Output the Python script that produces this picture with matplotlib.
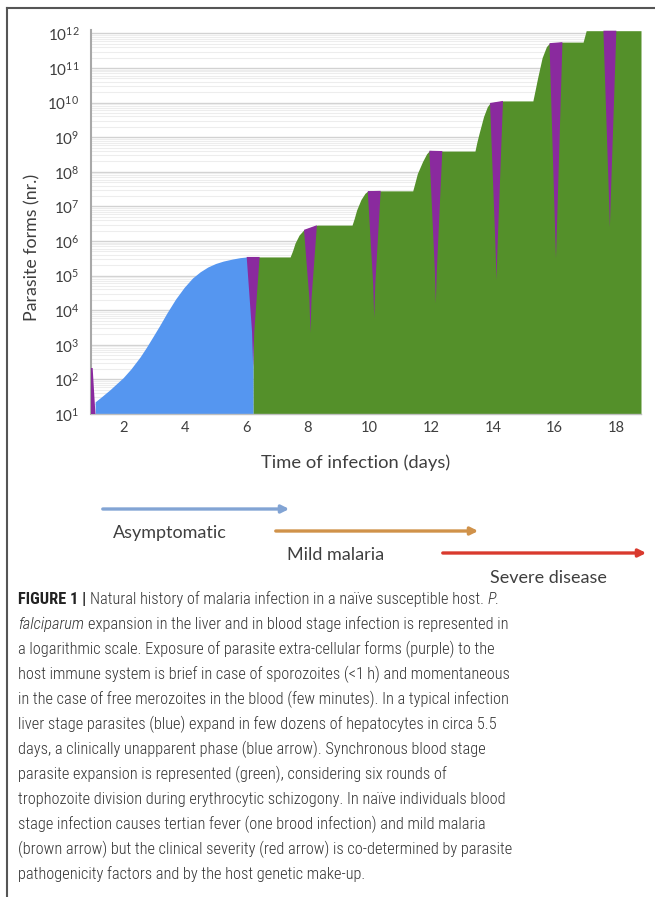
import numpy as np
import matplotlib
matplotlib.use("Agg")
import matplotlib.pyplot as plt
from matplotlib import font_manager
from matplotlib.lines import Line2D
from matplotlib.patches import FancyArrowPatch
from matplotlib.ticker import FixedLocator, NullFormatter

# ---------------- data (log10 of parasite numbers) ----------------
# liver stage (blue)
liver_days = [1.09, 1.30, 1.57, 2.00, 2.25, 2.55, 2.75, 2.97, 3.20, 3.42, 3.70, 3.98,
              4.25, 4.50, 4.75, 5.00, 5.25, 5.55, 5.80, 6.02, 6.22]
liver_log = [1.35, 1.50, 1.70, 2.05, 2.30, 2.65, 2.92, 3.24, 3.58, 3.92, 4.32, 4.66,
             4.93, 5.11, 5.25, 5.35, 5.42, 5.48, 5.52, 5.54, 5.54]

# blood stage (green) outline
blood_days = [6.22, 7.42, 7.50, 7.58, 7.71, 7.86, 8.30,
              9.43, 9.50, 9.58, 9.72, 9.85, 9.95, 10.41,
              11.40, 11.47, 11.55, 11.72, 11.85, 11.95, 12.39,
              13.42, 13.48, 13.55, 13.70, 13.82, 13.91, 14.33,
              15.30, 15.37, 15.45, 15.60, 15.74, 15.84, 16.28,
              16.93, 17.03, 18.81]
blood_log = [5.54, 5.54, 5.72, 5.94, 6.17, 6.32, 6.46,
             6.46, 6.65, 6.90, 7.20, 7.38, 7.45, 7.45,
             7.45, 7.68, 7.95, 8.30, 8.52, 8.62, 8.60,
             8.60, 8.85, 9.10, 9.60, 9.88, 9.99, 10.05,
             10.05, 10.35, 10.70, 11.30, 11.62, 11.72, 11.75,
             11.75, 12.08, 12.08]

# extracellular forms (purple): merozoite release days and depth of spike
merozoite_days = [6.22, 8.08, 10.15, 12.15, 14.12, 16.05, 17.80]
merozoite_min_log = [2.36, 3.34, 3.77, 4.20, 4.87, 5.50, 6.40]
sporozoite_day = 0.98
sporozoite_log = 2.33

x_ticks = [2, 4, 6, 8, 10, 12, 14, 16, 18]
y_exponents = list(range(1, 13))

phase_labels = ["Asymptomatic", "Mild malaria", "Severe disease"]

caption_lines = [
    [("FIGURE 1 |", "bold"), ("Natural history of malaria infection in a naïve susceptible host.", "normal"), ("P.", "italic")],
    [("falciparum", "italic"), ("expansion in the liver and in blood stage infection is represented in", "normal")],
    [("a logarithmic scale. Exposure of parasite extra-cellular forms (purple) to the", "normal")],
    [("host immune system is brief in case of sporozoites (<1\u2009h) and momentaneous", "normal")],
    [("in the case of free merozoites in the blood (few minutes). In a typical infection", "normal")],
    [("liver stage parasites (blue) expand in few dozens of hepatocytes in circa 5.5", "normal")],
    [("days, a clinically unapparent phase (blue arrow). Synchronous blood stage", "normal")],
    [("parasite expansion is represented (green), considering six rounds of", "normal")],
    [("trophozoite division during erythrocytic schizogony. In naïve individuals blood", "normal")],
    [("stage infection causes tertian fever (one brood infection) and mild malaria", "normal")],
    [("(brown arrow) but the clinical severity (red arrow) is co-determined by parasite", "normal")],
    [("pathogenicity factors and by the host genetic make-up.", "normal")],
]

# ---------------- style ----------------
W, H = 655, 897
BLUE = "#5596F0"
GREEN = "#54902A"
PURPLE = "#8A2A9E"
TXT = "#3F3F3F"

fl = font_manager.fontManager.ttflist
installed = {f.name for f in fl}
CHART_FONT = "Lato" if "Lato" in installed else "DejaVu Sans"

CAP_FONT, CAP_STRETCH = "Liberation Sans", "normal"
for cand in ["Liberation Sans Narrow", "Roboto Condensed", "Open Sans Condensed",
             "Noto Sans Condensed", "Arial Narrow"]:
    if cand in installed:
        CAP_FONT = cand
        break
else:
    for fam in ["Roboto", "Noto Sans", "Open Sans"]:
        if any(f.name == fam and f.stretch in ("condensed", "semi-condensed") for f in fl):
            CAP_FONT, CAP_STRETCH = fam, "condensed"
            break
HAS_LIGHT = any(f.name == CAP_FONT and f.weight in (300, "light") for f in fl)
CAP_WEIGHT = "light" if HAS_LIGHT else "normal"

plt.rcParams["font.family"] = [CHART_FONT, "DejaVu Sans"]
plt.rcParams["mathtext.fontset"] = "custom"
plt.rcParams["mathtext.rm"] = CHART_FONT
plt.rcParams["mathtext.it"] = CHART_FONT + ":italic"
plt.rcParams["mathtext.bf"] = CHART_FONT + ":bold"

fig = plt.figure(figsize=(W / 100, H / 100), dpi=100)

def fx(px):
    return px / W

def fy(py):
    return 1 - py / H

ax_left, ax_right, ax_bottom, ax_top = 90.5, 641, 414, 30
ax = fig.add_axes([fx(ax_left), fy(ax_bottom), fx(ax_right - ax_left), (ax_bottom - ax_top) / H])
ax.set_yscale("log")
ax.set_xlim(0.94, 18.81)
ax.set_ylim(10 ** 1, 10 ** 12.1)

# gridlines
ax.yaxis.set_major_locator(FixedLocator([10.0 ** e for e in y_exponents]))
minor = [m * 10.0 ** e for e in range(1, 12) for m in range(2, 10)]
ax.yaxis.set_minor_locator(FixedLocator(minor))
ax.yaxis.set_minor_formatter(NullFormatter())
ax.grid(True, which="major", axis="y", color="#D2D2D2", lw=1.0, zorder=0)
ax.grid(True, which="minor", axis="y", color="#EDEDED", lw=0.8, zorder=0)
ax.set_axisbelow(True)

ax.set_yticklabels([r"$10^{%d}$" % e for e in y_exponents])
ax.set_xticks(x_ticks)
ax.set_xticklabels([str(t) for t in x_ticks])
ax.tick_params(axis="y", which="both", length=0, pad=8, labelsize=11, labelcolor=TXT)
ax.tick_params(axis="x", length=0, pad=5, labelsize=10.5, labelcolor=TXT)
for s in ["top", "right"]:
    ax.spines[s].set_visible(False)
ax.spines["left"].set_color("#A8A8A8")
ax.spines["left"].set_linewidth(1.5)
ax.spines["bottom"].set_color("#BFBFBF")
ax.spines["bottom"].set_linewidth(1.0)

bottom = 10.0 ** 1

# blue liver stage
ld = np.array(liver_days)
lv = 10.0 ** np.array(liver_log)
ax.fill_between(np.r_[ld, ld[-1]], np.r_[lv, bottom], bottom, color=BLUE, lw=0, zorder=2)

# green blood stage
bd = np.array(blood_days)
bv = 10.0 ** np.array(blood_log)
ax.fill_between(bd, bv, bottom, color=GREEN, lw=0, zorder=2)

# purple merozoite wedges
half_w = 0.21
for k, (d, mn) in enumerate(zip(merozoite_days, merozoite_min_log)):
    xl, xr = d - half_w, d + half_w
    if k == 0:
        top_l = top_r = liver_log[-1]
    else:
        top_l = np.interp(xl, bd, np.array(blood_log))
        top_r = np.interp(xr, bd, np.array(blood_log))
    px = [xl, d - 0.035, d, d + 0.035, xr]
    py = [top_l, mn + 1.0, mn, mn + 1.0, top_r]
    ax.fill(px, 10.0 ** np.array(py), color=PURPLE, lw=0, zorder=3)

# purple sporozoite spike
ax.fill([0.94, 0.94, sporozoite_day + 0.03, 1.10],
        [bottom, 10 ** sporozoite_log, 10 ** sporozoite_log, bottom],
        color=PURPLE, lw=0, zorder=3)

# axis titles
fig.text(fx(32), fy(247), "Parasite forms (nr.)", rotation=90, ha="center", va="center",
         fontsize=12.8, color=TXT)
fig.text(fx(356), fy(463), "Time of infection (days)", ha="center", va="center",
         fontsize=13.2, color=TXT)

# phase arrows
arrows = [((100, 509), (292, 509), "#82A4D4"),
          ((273, 531), (481, 531), "#D0924A"),
          ((440, 553), (649, 553), "#D93A2E")]
for (p0, p1, c) in arrows:
    fig.add_artist(FancyArrowPatch((fx(p0[0]), fy(p0[1])), (fx(p1[0]), fy(p1[1])),
                                   transform=fig.transFigure, arrowstyle="-|>",
                                   mutation_scale=11, lw=2.4, color=c))
label_pos = [(170, 533), (336, 555), (548, 578)]
for lab, (lx, ly) in zip(phase_labels, label_pos):
    fig.text(fx(lx), fy(ly), lab, ha="center", va="center", fontsize=13, color=TXT)

# frame lines
fig.add_artist(Line2D([fx(7), 1.0], [fy(8), fy(8)], transform=fig.transFigure, color="#555555", lw=1.5))
fig.add_artist(Line2D([fx(7), fx(7)], [fy(8), 0.0], transform=fig.transFigure, color="#555555", lw=1.5))

# caption
renderer = fig.canvas.get_renderer()

def cap_kw(style, size):
    kw = dict(family=[CAP_FONT, "DejaVu Sans"], fontsize=size, fontstretch=CAP_STRETCH,
              weight=CAP_WEIGHT)
    if style == "bold":
        kw["weight"] = "bold"
    if style == "italic":
        kw["style"] = "italic"
    return kw

def seg_width(s, style, size):
    t = fig.text(0, 0, s, **cap_kw(style, size))
    w = t.get_window_extent(renderer).width
    t.remove()
    return w

cap_size = 12.0
cap_size = cap_size * 495.0 / seg_width(caption_lines[3][0][0], "normal", cap_size)
space_w = seg_width("a a", "normal", cap_size) - seg_width("aa", "normal", cap_size)

y0, dy = 599, 25
for i, segs in enumerate(caption_lines):
    xpx = 18.0
    ypx = y0 + i * dy
    for s, style in segs:
        kw = cap_kw(style, cap_size)
        kw.update(color="#222222" if style == "bold" else "#333333", va="center", ha="left")
        t = fig.text(fx(xpx), fy(ypx), s, **kw)
        xpx += t.get_window_extent(renderer).width + space_w

fig.savefig("out.png", dpi=100)
